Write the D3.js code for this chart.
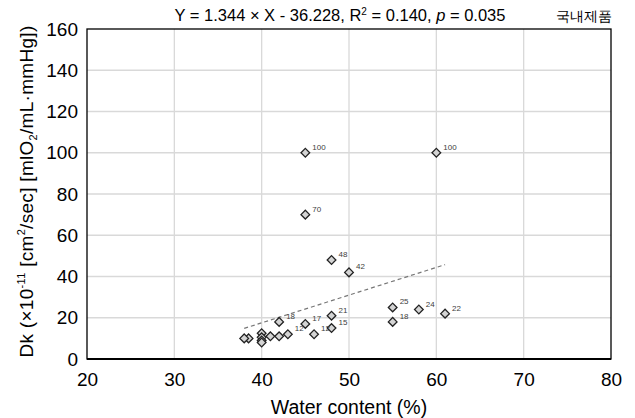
<!DOCTYPE html>
<meta charset="utf-8">
<html>
<script src="https://d3js.org/d3.v7.min.js"></script>
<style>
  body { margin: 0; background: white; }
  text { font-family: "Liberation Sans", Arial, sans-serif; }
</style>
<body>
<div id="chart"></div>
<script>
// water content (%) and Dk for each lens
const waterX = [45, 60, 45, 48, 50, 55, 58, 61, 55, 48, 48, 45, 42, 46, 43, 42, 41, 40, 40, 40, 40, 38.5, 38];
const dkY    = [100, 100, 70, 48, 42, 25, 24, 22, 18, 21, 15, 17, 18, 12, 12, 11, 11, 12.5, 10.5, 9, 8, 10, 10];
const pointLabels = ["100", "100", "70", "48", "42", "25", "24", "22", "18", "21", "15", "17", "18", "12", "12", "", "", "", "", "", "", "", ""];
const xTicks = [20, 30, 40, 50, 60, 70, 80];
const yTicks = [0, 20, 40, 60, 80, 100, 120, 140, 160];
// regression: Y = 1.344 X - 36.228
const slope = 1.344, intercept = -36.228;
const fitRange = [38, 61];

const W = 635, H = 418;
const margin = {top: 29, right: 24, bottom: 59, left: 87};
const width = W - margin.left - margin.right,
      height = H - margin.top - margin.bottom;

const svg = d3.select("#chart").append("svg")
  .attr("width", W).attr("height", H);
const g = svg.append("g").attr("transform", `translate(${margin.left},${margin.top})`);

const x = d3.scaleLinear().domain([20, 80]).range([0, width]);
const y = d3.scaleLinear().domain([0, 160]).range([height, 0]);

// grid
g.selectAll(".gx").data(xTicks.slice(1, -1)).join("line")
  .attr("x1", d => x(d)).attr("x2", d => x(d))
  .attr("y1", 0).attr("y2", height)
  .attr("stroke", "#d9d9d9").attr("stroke-width", 1.3);
g.selectAll(".gy").data(yTicks.slice(1, -1)).join("line")
  .attr("x1", 0).attr("x2", width)
  .attr("y1", d => y(d)).attr("y2", d => y(d))
  .attr("stroke", "#d9d9d9").attr("stroke-width", 1.3);

// frame
g.append("rect").attr("width", width).attr("height", height)
  .attr("fill", "none").attr("stroke", "#000").attr("stroke-width", 1.3);
g.append("line").attr("x1", 0).attr("x2", width).attr("y1", height).attr("y2", height)
  .attr("stroke", "#000").attr("stroke-width", 2);

// axes (labels only)
const xAxis = g.append("g").attr("transform", `translate(0,${height})`)
  .call(d3.axisBottom(x).tickValues(xTicks).tickSize(0).tickPadding(14));
const yAxis = g.append("g")
  .call(d3.axisLeft(y).tickValues(yTicks).tickSize(0).tickPadding(9));
[xAxis, yAxis].forEach(a => {
  a.select(".domain").remove();
  a.selectAll("text").attr("font-size", 19).attr("fill", "#000")
    .attr("font-family", "Liberation Sans, Arial, sans-serif");
});

// trend line
g.append("line")
  .attr("x1", x(fitRange[0])).attr("y1", y(slope * fitRange[0] + intercept))
  .attr("x2", x(fitRange[1])).attr("y2", y(slope * fitRange[1] + intercept))
  .attr("stroke", "#777").attr("stroke-width", 1.2).attr("stroke-dasharray", "4,3");

// points
const pts = waterX.map((v, i) => ({x: v, y: dkY[i], label: pointLabels[i]}));
g.selectAll(".pt").data(pts).join("path")
  .attr("d", d3.symbol(d3.symbolDiamond2, 48))
  .attr("transform", d => `translate(${x(d.x)},${y(d.y)})`)
  .attr("fill", "#d4d4d4").attr("stroke", "#222").attr("stroke-width", 1.3);

g.selectAll(".lb").data(pts.filter(d => d.label)).join("text")
  .attr("x", d => x(d.x) + 7).attr("y", d => y(d.y) - 3)
  .attr("font-size", 8).attr("fill", "#404040")
  .text(d => d.label);

// title line
const t = svg.append("text").attr("x", 340).attr("y", 21).attr("text-anchor", "middle")
  .attr("font-size", 16.5);
t.append("tspan").text("Y  = 1.344 × X - 36.228, R");
t.append("tspan").attr("font-size", 10).attr("dy", -6).text("2");
t.append("tspan").attr("dy", 6).text(" = 0.140, ");
t.append("tspan").attr("font-style", "italic").text("p");
t.append("tspan").text(" = 0.035");

svg.append("text").attr("x", 612).attr("y", 21).attr("text-anchor", "end")
  .attr("font-size", 14).attr("font-family", "Noto Sans CJK KR, sans-serif")
  .text("국내제품");

// axis titles
svg.append("text").attr("x", margin.left + width / 2 + 0).attr("y", 414)
  .attr("text-anchor", "middle").attr("font-size", 19.5).text("Water content (%)");

const yl = svg.append("text")
  .attr("transform", `translate(33,${(360 + 23) / 2}) rotate(-90)`)
  .attr("text-anchor", "middle").attr("font-size", 19).attr("letter-spacing", 0.3);
yl.append("tspan").text("Dk (×10");
yl.append("tspan").attr("font-size", 11).attr("dy", -8).text("-11");
yl.append("tspan").attr("dy", 8).text("  [cm");
yl.append("tspan").attr("font-size", 11).attr("dy", -8).text("2");
yl.append("tspan").attr("dy", 8).text("/sec] [mlO");
yl.append("tspan").attr("font-size", 11).attr("dy", 4).text("2");
yl.append("tspan").attr("dy", -4).text("/mL·mmHg])");
</script>
</body>
</html>
